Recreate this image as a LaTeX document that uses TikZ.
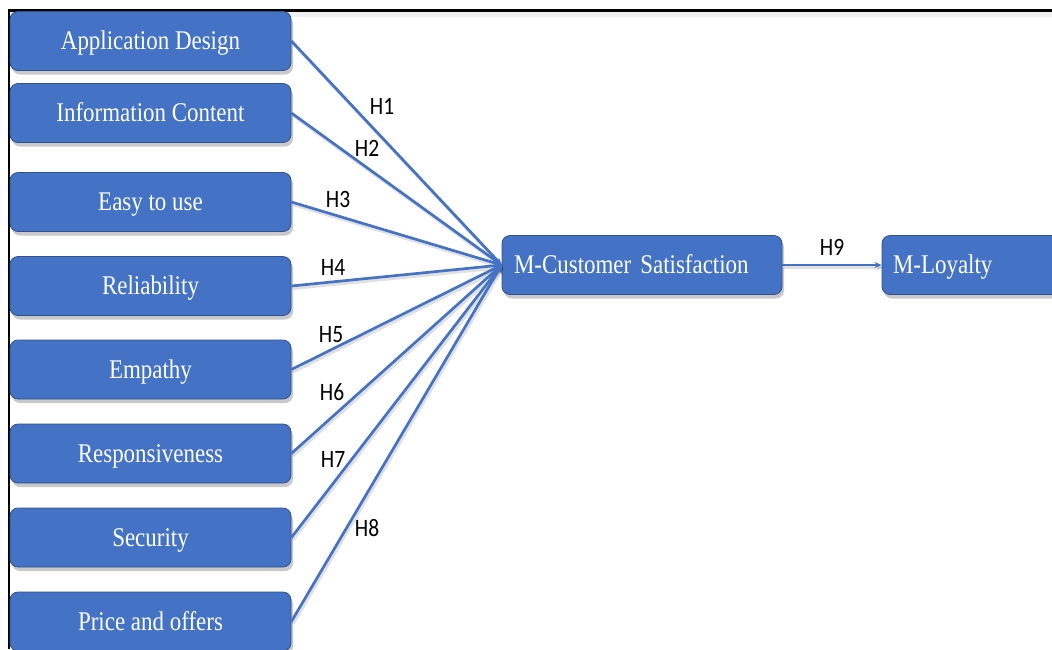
\documentclass[tikz,border=0pt]{standalone}
\usepackage{fontspec}
\newfontfamily\boxfont{Liberation Serif}[FakeStretch=0.85]
\newfontfamily\hypfont{Carlito}[FakeStretch=0.86]
\usetikzlibrary{arrows.meta,shadows}
\definecolor{boxblue}{HTML}{4472C4}
\definecolor{boxedge}{HTML}{2F528F}
\tikzset{
  factor/.style={rectangle, rounded corners=8pt, fill=boxblue, draw=boxedge, line width=0.8pt,
    minimum width=281pt, minimum height=59pt, inner sep=0pt, text=white,
    text height=17.5pt, text depth=0pt,
    font=\boxfont\fontsize{27}{30}\selectfont,
    drop shadow={shadow xshift=2pt, shadow yshift=-4pt, opacity=0.3, fill=black!70}},
  link/.style={draw=boxblue, line width=2.7pt, -{Stealth[length=7pt,width=6pt]},
    preaction={draw=black, opacity=0.12, line width=3pt, transform canvas={xshift=1.5pt,yshift=-2.5pt}}},
  hyp/.style={font=\hypfont\fontsize{25}{28}\selectfont, text=black, inner sep=0pt}
}
\begin{document}
\begin{tikzpicture}[x=1pt,y=-1pt]
\useasboundingbox (0,0) rectangle (1052,649);
% page frame (top and left edges)
\fill[black!6] (9,11) rectangle (1052,17);
\draw[black, line width=3pt] (9,10) -- (1052,10);
\draw[black, line width=2.5pt] (9,9) -- (9,649);

% antecedent factors
\node[factor] (ad) at (150.5,41)    {Application Design};
\node[factor] (ic) at (150.5,113)   {Information Content};
\node[factor] (eu) at (150.5,202)   {Easy to use};
\node[factor] (re) at (150.5,286)   {Reliability};
\node[factor] (em) at (150.5,369.5) {Empathy};
\node[factor] (rs) at (150.5,453.5) {Responsiveness};
\node[factor] (se) at (150.5,537.5) {Security};
\node[factor] (po) at (150.5,621.5) {Price and offers};

% mediator and outcome
\node[factor, minimum width=280pt, text width=256pt, align=left] (cs) at (642,265) {M-Customer Satisfaction};
\node[factor, minimum width=190pt, text width=168pt, align=left] (ml) at (977,265) {M-Loyalty};

% hypothesised paths
\draw[link] (ad.east) -- (cs.west);
\draw[link] (ic.east) -- (cs.west);
\draw[link] (eu.east) -- (cs.west);
\draw[link] (re.east) -- (cs.west);
\draw[link] (em.east) -- (cs.west);
\draw[link] (rs.east) -- (cs.west);
\draw[link] (se.east) -- (cs.west);
\draw[link] (po.east) -- (cs.west);
\draw[link, line width=2.4pt] (cs.east) -- (ml.west);

% path labels
\node[hyp] (h1) at (382,106) {H1};
\node[hyp] (h2) at (367,148) {H2};
\node[hyp] (h3) at (338,199) {H3};
\node[hyp] (h4) at (333,267) {H4};
\node[hyp] (h5) at (331,335) {H5};
\node[hyp] (h6) at (332,392) {H6};
\node[hyp] (h7) at (333,459) {H7};
\node[hyp] (h8) at (367,528) {H8};
\node[hyp] (h9) at (832,247) {H9};
\end{tikzpicture}
\end{document}
